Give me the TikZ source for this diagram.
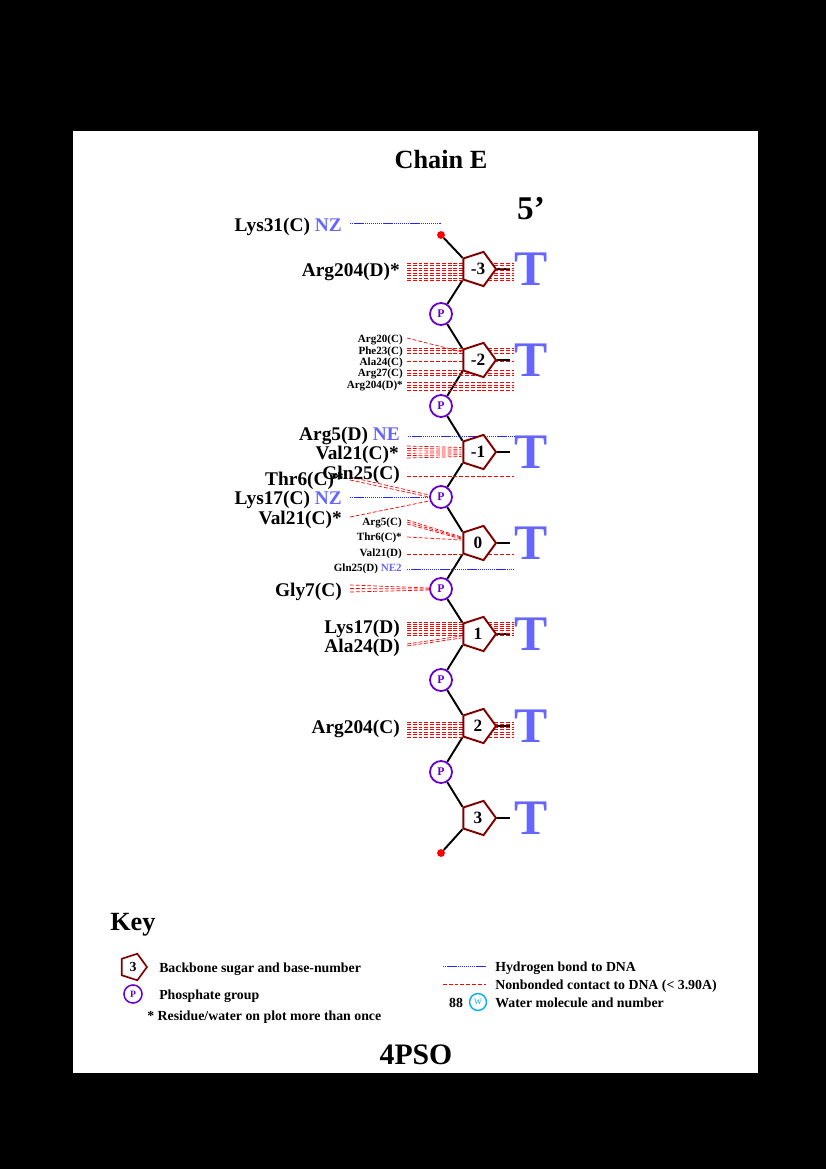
\documentclass[tikz,border=0pt]{standalone}
\usepackage{fontspec}
\setmainfont{Liberation Serif}
\usepackage{xcolor}
\usetikzlibrary{shapes.geometric, calc}

\definecolor{sugarred}{RGB}{128,0,0}
\definecolor{phosviolet}{RGB}{102,0,204}
\definecolor{basebl}{RGB}{102,102,255}

\pgfdeclarelayer{paper}
\pgfdeclarelayer{contacts}
\pgfsetlayers{paper,contacts,main}

\begin{document}
\begin{tikzpicture}[x=0.25424mm, y=-0.25424mm,
    sugar/.style={draw=sugarred, line width=1.4pt, fill=white, regular polygon, regular polygon sides=5, shape border rotate=-90, minimum size=9.15mm, inner sep=0pt, font=\bfseries\fontsize{12.5}{14}\selectfont},
    phos/.style={circle, draw=phosviolet, line width=1.3pt, fill=white, text=phosviolet, minimum size=5.6mm, inner sep=0pt, font=\bfseries\fontsize{8.5}{10}\selectfont},
    enddot/.style={circle, fill=red, minimum size=2mm, inner sep=0pt},
    basechar/.style={text=basebl, inner sep=0pt, font=\bfseries\fontsize{36}{40}\selectfont},
    res/.style={anchor=east, inner sep=0pt, text height=14pt, text depth=3pt, font=\bfseries\fontsize{14}{16}\selectfont},
    ressmall/.style={anchor=east, inner sep=0pt, text height=8.4pt, text depth=1.8pt, font=\bfseries\fontsize{8}{9}\selectfont},
    keytext/.style={anchor=west, inner sep=0pt, text height=9.8pt, text depth=2.2pt, font=\bfseries\fontsize{10}{12}\selectfont},
    backbone/.style={line width=1.4pt},
    nb/.style={red, line width=0.5pt, dash pattern=on 2.8pt off 1.4pt},
    hb/.style={blue!85!white, line width=0.6pt, dash pattern=on 1pt off 0.5pt}]

    \begin{pgfonlayer}{paper}
        \fill[black] (0,0) rectangle (826,1169);
        \fill[white] (73,131) rectangle (758,1073);
    \end{pgfonlayer}

    \node[font=\bfseries\fontsize{19}{22}\selectfont] (title) at (441,160) {Chain E};
    \node[font=\bfseries\fontsize{24}{28}\selectfont] (fiveprime) at (531,209) {5'};

    % Strand
    \foreach \n/\y in {-3/269,-2/360,-1/452,0/543,1/634,2/726,3/818} {
        \node[sugar] (s\n) at (478,\y) {\n};
        \node[basechar] (t\n) at (531,\y) {T};
    }
    \foreach \n/\y in {-3/314,-2/406,-1/497,0/589,1/680,2/772}
        \node[phos] (p\n) at (441,\y) {P};
    \node[enddot] (d5) at (441,235) {};
    \node[enddot] (d3) at (441,853) {};

    % Residues
    \node[res] (lys31c) at (342,224) {Lys31(C) \textcolor{basebl}{NZ}};
    \node[res] (arg204d) at (400,269) {Arg204(D)*};
    \node[ressmall] (arg20c) at (403,338) {Arg20(C)};
    \node[ressmall] (phe23c) at (403,350) {Phe23(C)};
    \node[ressmall] (ala24c) at (403,361) {Ala24(C)};
    \node[ressmall] (arg27c) at (403,372) {Arg27(C)};
    \node[ressmall] (arg204db) at (403,384) {Arg204(D)*};
    \node[res] (arg5d) at (400,433) {Arg5(D) \textcolor{basebl}{NE}};
    \node[res] (val21c) at (399,452) {Val21(C)*};
    \node[res] (thr6c) at (344,478) {Thr6(C)*};
    \node[res] (gln25c) at (400,472) {Gln25(C)};
    \node[res] (lys17c) at (342,497) {Lys17(C) \textcolor{basebl}{NZ}};
    \node[res] (val21cb) at (342,517) {Val21(C)*};
    \node[ressmall] (arg5c) at (402,521) {Arg5(C)};
    \node[ressmall] (thr6cb) at (402,536) {Thr6(C)*};
    \node[ressmall] (val21d) at (402,552) {Val21(D)};
    \node[ressmall] (gln25d) at (402,567) {Gln25(D) \textcolor{basebl}{NE2}};
    \node[res] (gly7c) at (342,589) {Gly7(C)};
    \node[res] (lys17d) at (400,626) {Lys17(D)};
    \node[res] (ala24d) at (400,645) {Ala24(D)};
    \node[res] (arg204c) at (400,726) {Arg204(C)};

    \begin{pgfonlayer}{contacts}
        \draw[backbone] (d5) -- (s-3.corner 3);
        \foreach \a/\b in {-3/-2,-2/-1,-1/0,0/1,1/2,2/3} {
            \draw[backbone] (s\a.corner 4) -- (p\a);
            \draw[backbone] (p\a) -- (s\b.corner 3);
        }
        \draw[backbone] (s3.corner 4) -- (d3);
        \foreach \n in {-3,...,3}
            \draw[backbone, shorten >=1mm] (s\n.corner 1) -- (t\n.west);

        % -3
        \draw[hb] ($(lys31c.east)+(8,-1)$) -- ($(d5)+(0,-12)$);
        \foreach \k in {0,...,7}
            \draw[nb] ($(arg204d.east)+(7,-6+2.5*\k)$) -- ($(arg204d.east -| s-3.corner 1)+(17,-6+2.5*\k)$);
        % -2
        \draw[nb] ($(arg20c.east)+(4,0)$) -- ($(s-2.west)+(0,-8)$);
        \foreach \d in {-2,0.5,3}
            \draw[nb] ($(phe23c.east)+(4,\d)$) -- ($(phe23c.east -| s-2.corner 1)+(17,\d)$);
        \draw[nb] ($(ala24c.east)+(4,0)$) -- ($(ala24c.east -| s-2.corner 1)+(17,0)$);
        \foreach \d in {-1.5,1,3.5}
            \draw[nb] ($(arg27c.east)+(4,\d)$) -- ($(arg27c.east -| s-2.corner 1)+(17,\d)$);
        \foreach \d in {-1.5,1,3.5,6}
            \draw[nb] ($(arg204db.east)+(4,\d)$) -- ($(arg204db.east -| s-2.corner 1)+(17,\d)$);
        % -1
        \draw[hb] ($(arg5d.east)+(8,3)$) -- ($(arg5d.east -| s-1.corner 1)+(17,3)$);
        \foreach \k in {0,...,5}
            \draw[nb] ($(val21c.east)+(8,-6+2.4*\k)$) -- ($(s-1.west)+(-1,-4.5+1.8*\k)$);
        \draw[nb] ($(gln25c.east)+(7,4)$) -- ($(gln25c.east -| s-1.corner 1)+(17,4)$);
        \draw[nb] ($(thr6c.east)+(6,-1)$) -- ($(p-1.west)+(0,-2)$);
        \draw[nb] ($(thr6c.east)+(6,2)$) -- ($(p-1.west)+(0,0)$);
        \draw[hb] ($(lys17c.east)+(8,0)$) -- (p-1.west);
        \draw[nb] ($(val21cb.east)+(8,0)$) -- ($(p-1.west)+(0,4)$);
        % 0
        \foreach \k in {0,1,2}
            \draw[nb] ($(arg5c.east)+(5,-1+2*\k)$) -- ($(s0.west)+(-1,-6+\k)$);
        \draw[nb] ($(thr6cb.east)+(5,1)$) -- ($(s0.west)+(-1,-3)$);
        \draw[nb] ($(val21d.east)+(5,2)$) -- ($(val21d.east -| s0.corner 1)+(17,2)$);
        \draw[hb] ($(gln25d.east)+(5,2)$) -- ($(gln25d.east -| s0.corner 1)+(17,2)$);
        \foreach \k in {0,1,2}
            \draw[nb] ($(gly7c.east)+(8,-4+3.5*\k)$) -- ($(p0.west)+(0,-1+\k)$);
        % 1
        \foreach \k in {0,...,6}
            \draw[nb] ($(lys17d.east)+(7,-4+2.2*\k)$) -- ($(lys17d.east -| s1.corner 1)+(17,-4+2.2*\k)$);
        \draw[nb] ($(ala24d.east)+(7,-1)$) -- ($(s1.west)+(-1,2)$);
        \draw[nb] ($(ala24d.east)+(7,1)$) -- ($(s1.west)+(-1,4)$);
        % 2
        \foreach \k in {0,...,6}
            \draw[nb] ($(arg204c.east)+(7,-4+2.5*\k)$) -- ($(arg204c.east -| s2.corner 1)+(17,-4+2.5*\k)$);
    \end{pgfonlayer}

    % Key
    \node[anchor=west, inner sep=0pt, font=\bfseries\fontsize{19}{22}\selectfont] (keytitle) at (110,925) {Key};
    \node[sugar, minimum size=7.1mm, line width=1.2pt, font=\bfseries\fontsize{10}{12}\selectfont] (keysugar) at (133,967) {3};
    \node[keytext] (keysugartxt) at (159,967) {Backbone sugar and base-number};
    \node[phos, minimum size=4.6mm, line width=1.1pt, font=\bfseries\fontsize{7}{8}\selectfont] (keyphos) at (133,994) {P};
    \node[keytext] (keyphostxt) at (159,994) {Phosphate group};
    \node[keytext] (keystar) at (147,1015) {* Residue/water on plot more than once};
    \coordinate (hbA) at (443,966);
    \coordinate (hbB) at (486,966);
    \coordinate (nbA) at (443,984);
    \coordinate (nbB) at (486,984);
    \draw[hb] (hbA) -- (hbB);
    \draw[nb] (nbA) -- (nbB);
    \node[keytext] (keyhbtxt) at (495,966) {Hydrogen bond to DNA};
    \node[keytext] (keynbtxt) at (495,984) {Nonbonded contact to DNA (< 3.90A)};
    \node[inner sep=0pt, text height=9.8pt, text depth=2.2pt, font=\bfseries\fontsize{10}{12}\selectfont] (keynum) at (456,1002) {88};
    \node[circle, draw=cyan, line width=1pt, text=cyan, minimum size=4.3mm, inner sep=0pt, font=\fontsize{6}{7}\selectfont] (keywater) at (478,1002) {W};
    \node[keytext] (keywatertxt) at (495,1002) {Water molecule and number};

    \node[font=\bfseries\fontsize{21.5}{24}\selectfont] (pdbcode) at (416,1055) {4PSO};
\end{tikzpicture}
\end{document}
